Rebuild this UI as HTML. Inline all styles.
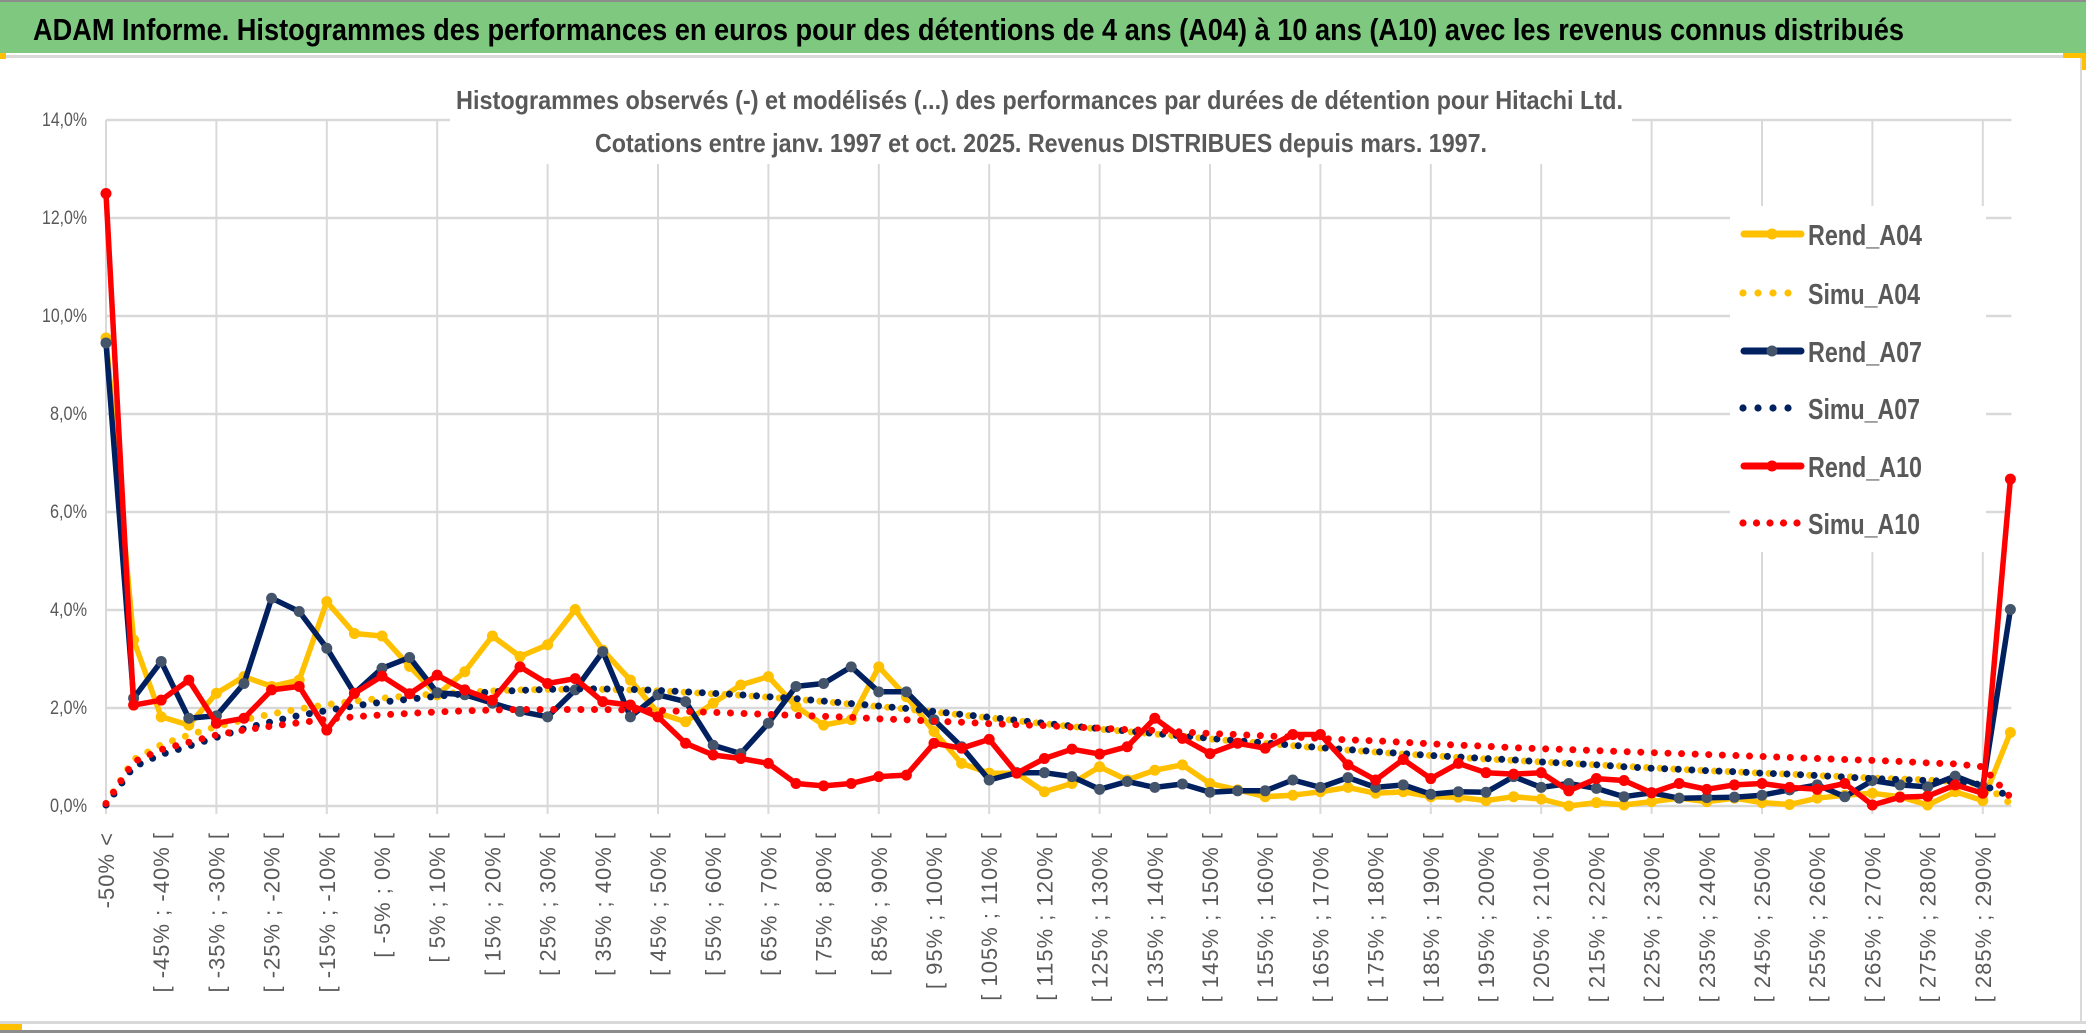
<!DOCTYPE html>
<html><head><meta charset="utf-8"><title>ADAM Informe Hitachi</title>
<style>
html,body{margin:0;padding:0;background:#fff;}
svg{display:block;font-family:"Liberation Sans",sans-serif;}
</style></head>
<body>
<svg id="chart" width="2086" height="1033" viewBox="0 0 2086 1033" xmlns="http://www.w3.org/2000/svg">
  <rect x="0" y="0" width="2086" height="1033" fill="#ffffff"/>
  <rect x="0" y="0" width="2086" height="2" fill="#8c8c8c"/>
  <rect x="0" y="2" width="2086" height="51" fill="#7ec97f"/>
  <text x="33" y="40" font-size="31" font-weight="bold" fill="#000" textLength="1871" lengthAdjust="spacingAndGlyphs">ADAM Informe. Histogrammes des performances en euros pour des détentions de 4 ans (A04) à 10 ans (A10) avec les revenus connus distribués</text>
  <rect x="0" y="55" width="2086" height="3" fill="#d9d9d9"/>
  <rect x="0" y="53" width="6" height="6" fill="#ffc000"/>
  <rect x="2063" y="53" width="23" height="5" fill="#ffc000"/>
  <rect x="2081" y="58" width="5" height="12" fill="#ffc000"/>
  <rect x="2080" y="58" width="2" height="966" fill="#d9d9d9"/>
  <rect x="0" y="1021" width="2086" height="3" fill="#d9d9d9"/>
  <rect x="0" y="1030" width="2086" height="3" fill="#8c8c8c"/>
  <rect x="0" y="1024" width="22" height="6" fill="#ffc000"/>
  <g id="grid"></g>
  <rect x="450" y="80" width="1182" height="42" fill="#fff"/>
  <rect x="545" y="118" width="1000" height="46" fill="#fff"/>
  <rect x="1730" y="206" width="256" height="346" fill="#fff"/>
  <text x="456" y="109" font-size="26" font-weight="bold" fill="#595959" textLength="1167" lengthAdjust="spacingAndGlyphs">Histogrammes observés (-) et modélisés (...) des performances par durées de détention pour Hitachi Ltd.</text>
  <text x="595" y="152" font-size="26" font-weight="bold" fill="#595959" textLength="892" lengthAdjust="spacingAndGlyphs">Cotations entre janv. 1997 et oct. 2025. Revenus DISTRIBUES depuis mars. 1997.</text>
  <g id="yaxis"></g>
  <g id="xaxis"></g>
  <g id="series"></g>
  <g id="legend"></g>
</svg>
<script>
const categories = ["-50% <","[ -50% ; -45% [","[ -45% ; -40% [","[ -40% ; -35% [","[ -35% ; -30% [","[ -30% ; -25% [","[ -25% ; -20% [","[ -20% ; -15% [","[ -15% ; -10% [","[ -10% ; -5% [",
"[ -5% ; 0% [","[ 0% ; 5% [","[ 5% ; 10% [","[ 10% ; 15% [","[ 15% ; 20% [","[ 20% ; 25% [","[ 25% ; 30% [","[ 30% ; 35% [","[ 35% ; 40% [","[ 40% ; 45% [",
"[ 45% ; 50% [","[ 50% ; 55% [","[ 55% ; 60% [","[ 60% ; 65% [","[ 65% ; 70% [","[ 70% ; 75% [","[ 75% ; 80% [","[ 80% ; 85% [","[ 85% ; 90% [","[ 90% ; 95% [",
"[ 95% ; 100% [","[ 100% ; 105% [","[ 105% ; 110% [","[ 110% ; 115% [","[ 115% ; 120% [","[ 120% ; 125% [","[ 125% ; 130% [","[ 130% ; 135% [","[ 135% ; 140% [","[ 140% ; 145% [",
"[ 145% ; 150% [","[ 150% ; 155% [","[ 155% ; 160% [","[ 160% ; 165% [","[ 165% ; 170% [","[ 170% ; 175% [","[ 175% ; 180% [","[ 180% ; 185% [","[ 185% ; 190% [","[ 190% ; 195% [",
"[ 195% ; 200% [","[ 200% ; 205% [","[ 205% ; 210% [","[ 210% ; 215% [","[ 215% ; 220% [","[ 220% ; 225% [","[ 225% ; 230% [","[ 230% ; 235% [","[ 235% ; 240% [","[ 240% ; 245% [",
"[ 245% ; 250% [","[ 250% ; 255% [","[ 255% ; 260% [","[ 260% ; 265% [","[ 265% ; 270% [","[ 270% ; 275% [","[ 275% ; 280% [","[ 280% ; 285% [","[ 285% ; 290% [","290% >"];
const yTicks = [0,2,4,6,8,10,12,14];
const yTickLabels = ["0,0%","2,0%","4,0%","6,0%","8,0%","10,0%","12,0%","14,0%"];
const rendA04 = [9.55,3.39,1.82,1.65,2.3,2.64,2.44,2.57,4.17,3.52,3.47,2.85,2.27,2.74,3.47,3.05,3.29,4.01,3.18,2.57,1.9,1.72,2.1,2.47,2.64,2.03,1.65,1.76,2.84,2.23,1.52,0.87,0.67,0.67,0.29,0.46,0.8,0.53,0.73,0.84,0.46,0.33,0.19,0.22,0.29,0.38,0.26,0.29,0.19,0.18,0.11,0.19,0.14,0.0,0.07,0.02,0.09,0.16,0.09,0.16,0.07,0.03,0.16,0.22,0.26,0.19,0.02,0.29,0.11,1.5];
const simuA04 = [0.05,0.95,1.25,1.45,1.62,1.76,1.88,1.98,2.07,2.14,2.2,2.25,2.29,2.32,2.35,2.37,2.38,2.38,2.38,2.37,2.35,2.32,2.29,2.26,2.22,2.18,2.13,2.08,2.03,1.98,1.92,1.86,1.8,1.74,1.68,1.62,1.57,1.52,1.47,1.42,1.37,1.32,1.28,1.23,1.18,1.14,1.1,1.06,1.03,0.99,0.96,0.93,0.9,0.87,0.84,0.81,0.78,0.75,0.72,0.7,0.67,0.65,0.62,0.6,0.57,0.55,0.53,0.5,0.45,0.05];
const rendA07 = [9.45,2.2,2.95,1.79,1.84,2.5,4.24,3.97,3.22,2.3,2.81,3.03,2.31,2.27,2.1,1.93,1.82,2.37,3.15,1.82,2.27,2.13,1.24,1.07,1.69,2.44,2.5,2.84,2.33,2.33,1.76,1.21,0.53,0.68,0.68,0.6,0.34,0.5,0.38,0.45,0.28,0.31,0.31,0.53,0.38,0.58,0.38,0.43,0.24,0.29,0.28,0.6,0.38,0.46,0.36,0.19,0.27,0.16,0.17,0.18,0.22,0.33,0.43,0.19,0.52,0.43,0.39,0.61,0.39,4.01];
const simuA07 = [0.02,0.8,1.05,1.22,1.4,1.58,1.72,1.85,1.95,2.04,2.12,2.18,2.24,2.29,2.33,2.36,2.38,2.39,2.39,2.38,2.36,2.33,2.3,2.27,2.23,2.19,2.14,2.09,2.04,1.99,1.93,1.87,1.81,1.75,1.69,1.63,1.58,1.53,1.48,1.43,1.38,1.33,1.29,1.24,1.19,1.15,1.11,1.07,1.03,1.0,0.97,0.94,0.9,0.87,0.84,0.8,0.77,0.75,0.72,0.7,0.67,0.65,0.62,0.59,0.56,0.54,0.52,0.5,0.43,0.19];
const rendA10 = [12.5,2.06,2.16,2.57,1.69,1.79,2.37,2.44,1.55,2.3,2.65,2.29,2.67,2.37,2.16,2.84,2.5,2.6,2.13,2.06,1.82,1.28,1.04,0.97,0.87,0.46,0.41,0.46,0.6,0.63,1.28,1.18,1.36,0.67,0.97,1.16,1.06,1.21,1.79,1.38,1.07,1.28,1.18,1.46,1.46,0.84,0.53,0.95,0.56,0.87,0.68,0.65,0.68,0.31,0.56,0.52,0.27,0.46,0.34,0.43,0.46,0.38,0.34,0.46,0.02,0.18,0.2,0.43,0.26,6.67];
const simuA10 = [0.05,0.9,1.15,1.3,1.45,1.55,1.63,1.7,1.77,1.82,1.86,1.89,1.92,1.94,1.96,1.97,1.97,1.97,1.97,1.96,1.95,1.93,1.91,1.89,1.87,1.85,1.83,1.81,1.78,1.76,1.73,1.71,1.68,1.66,1.64,1.61,1.59,1.56,1.54,1.51,1.48,1.46,1.43,1.41,1.38,1.35,1.33,1.3,1.27,1.24,1.22,1.19,1.17,1.15,1.13,1.11,1.09,1.07,1.05,1.03,1.01,0.99,0.97,0.95,0.93,0.91,0.88,0.86,0.8,0.18];
const seriesNames = ["Rend_A04","Simu_A04","Rend_A07","Simu_A07","Rend_A10","Simu_A10"];

const NS = "http://www.w3.org/2000/svg";
const X0 = 106, XSTEP = 27.6, Y0 = 806, YPER = 49;
function xScale(i){ return X0 + i * XSTEP; }
function yScale(v){ return Y0 - v * YPER; }
function mk(tag, attrs, parent){
  const e = document.createElementNS(NS, tag);
  for (const k in attrs) e.setAttribute(k, attrs[k]);
  parent.appendChild(e);
  return e;
}
const grid = document.getElementById('grid');
const yaxis = document.getElementById('yaxis');
const xaxis = document.getElementById('xaxis');
const seriesG = document.getElementById('series');
const legend = document.getElementById('legend');
const xEnd = xScale(categories.length - 1) + 1;

yTicks.forEach((t, k) => {
  const l = mk('line', {x1: X0, x2: xEnd, y1: yScale(t), y2: yScale(t), stroke: '#d9d9d9', 'stroke-width': 2.5}, grid);
  
  
  const tx = mk('text', {x: 87, y: yScale(t) + 6, 'font-size': 19, fill: '#595959', 'text-anchor': 'end', textLength: yTickLabels[k].length > 4 ? 45 : 37, lengthAdjust: 'spacingAndGlyphs'}, yaxis);
  tx.textContent = yTickLabels[k];
  
  
});
for (let i = 0; i < categories.length; i += 4) {
  const l = mk('line', {x1: xScale(i), x2: xScale(i), y1: yScale(14), y2: Y0 + 8, stroke: '#d9d9d9', 'stroke-width': 2}, grid);
  
  
}
categories.forEach((c, i) => {
  if (i % 2 !== 0 || i > 68) return;
  const x = xScale(i) + 8, y = 832;
  const tx = mk('text', {x: x, y: y, transform: 'rotate(-90 ' + x + ' ' + y + ')', 'font-size': 22, 'letter-spacing': 1, fill: '#595959', 'text-anchor': 'end'}, xaxis);
  tx.textContent = c;
  
  
});

const seriesData = [rendA04, simuA04, rendA07, simuA07, rendA10, simuA10];
const lineColors = ['#ffc000','#ffc000','#002060','#002060','#ff0000','#ff0000'];
const markerColors = ['#ffc000','#ffc000','#44546a','#002060','#ff0000','#ff0000'];
seriesData.forEach((vals, s) => {
  const g = mk('g', {}, seriesG);
  
  
  const pts = vals.map((v, i) => xScale(i).toFixed(1) + ',' + yScale(v).toFixed(1)).join(' ');
  const dotted = s % 2 === 1;
  const attrs = {points: pts, fill: 'none', stroke: lineColors[s], 'stroke-linejoin': 'round', 'stroke-linecap': 'round'};
  if (dotted) { attrs['stroke-width'] = 7; attrs['stroke-dasharray'] = '0 13.6'; }
  else { attrs['stroke-width'] = 5.5; }
  const pl = mk('polyline', attrs, g);
  
  
  if (!dotted) {
    vals.forEach((v, i) => {
      const c = mk('circle', {cx: xScale(i), cy: yScale(v), r: 5.5, fill: markerColors[s]}, g);
      
      
    });
  }
});

const legendY = [234, 293, 351, 408, 466, 523];
const legendW = [114, 112, 114, 112, 114, 112];
seriesNames.forEach((n, s) => {
  const g = mk('g', {}, legend);
  
  
  const y = legendY[s];
  if (s % 2 === 0) {
    mk('line', {x1: 1744, x2: 1801, y1: y, y2: y, stroke: lineColors[s], 'stroke-width': 7, 'stroke-linecap': 'round'}, g);
    mk('circle', {cx: 1772, cy: y, r: 5.5, fill: markerColors[s]}, g);
  } else {
    const nd = s === 5 ? 5 : 4, step = s === 5 ? 13.5 : 15;
    for (let k = 0; k < nd; k++) mk('circle', {cx: 1743 + k * step, cy: y, r: 3.6, fill: lineColors[s]}, g);
  }
  const tx = mk('text', {x: 1808, y: y + 11, 'font-size': 29, 'font-weight': 'bold', fill: '#595959', textLength: legendW[s], lengthAdjust: 'spacingAndGlyphs'}, g);
  tx.textContent = n;
  
  
});
</script>
</body></html>
